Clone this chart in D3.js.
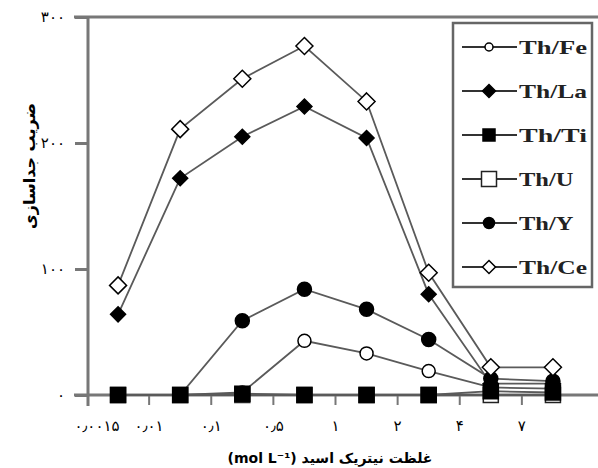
<!DOCTYPE html>
<html>
<head>
<meta charset="utf-8">
<script src="https://cdn.jsdelivr.net/npm/d3@7"></script>
<style>
  body { margin: 0; background: #fff; }
  svg { display: block; }
</style>
</head>
<body>
<div id="graphicContainer"></div>
<script>

var categories = ["0.0015", "0.01", "0.1", "0.5", "1", "2", "4", "7"]

var xTickLabels = ["٠٫٠٠١۵", "٠٫٠١", "٠٫١", "٠٫۵", "١", "٢", "۴", "٧"]

var yTicks = [0, 100, 200, 300]

var yTickLabels = ["٠", "١٠٠", "٢٠٠", "٣٠٠"]

var thU  = [0, 0, 0, 0, 0, 0, 0, 0]
var thTi = [0, 0, 1, 0, 0, 0, 3, 2]
var thFe = [0, 0, 2, 43, 33, 19, 6, 5]
var thY  = [0, 0, 59, 84, 68, 44, 13, 11]
var thLa = [64, 172, 205, 229, 204, 80, 9, 9]
var thCe = [87, 211, 251, 277, 233, 97, 22, 22]

var series = [
  { key: "Th/Fe", values: thFe, shape: "circle", fill: "#fff" },
  { key: "Th/La", values: thLa, shape: "diamond", fill: "#000" },
  { key: "Th/Ti", values: thTi, shape: "square", fill: "#000" },
  { key: "Th/U",  values: thU,  shape: "square", fill: "#fff" },
  { key: "Th/Y",  values: thY,  shape: "circle", fill: "#000" },
  { key: "Th/Ce", values: thCe, shape: "diamond", fill: "#fff" }
]

// order the lines are painted in
var drawOrder = ["Th/U", "Th/Fe", "Th/Y", "Th/La", "Th/Ce", "Th/Ti"]

var width = 598
var height = 468
var margin = { top: 17, right: 14, bottom: 73, left: 87 }

var svg = d3.select("#graphicContainer").append("svg")
  .attr("width", width)
  .attr("height", height)

var x = d3.scaleBand()
  .domain(categories)
  .range([margin.left, width - margin.right])
  .padding(0)

var y = d3.scaleLinear()
  .domain([0, 300])
  .range([height - margin.bottom, margin.top])

var axisColour = "#777"

// y axis
var yAxis = svg.append("g")
  .attr("class", "axisgroup")
  .attr("transform", `translate(${margin.left + 1},0)`)
  .call(d3.axisLeft(y)
    .tickValues(yTicks)
    .tickSize(13)
    .tickSizeOuter(0)
    .tickPadding(10)
    .tickFormat((d, i) => yTickLabels[i]))

yAxis.select(".domain").remove()
yAxis.selectAll("line").attr("stroke", axisColour).attr("stroke-width", 3)
yAxis.selectAll("text")
  .attr("font-family", "DejaVu Sans")
  .attr("font-size", 15)
  .attr("fill", "#000")

// axis frame lines
svg.append("line")
  .attr("x1", margin.left + 1).attr("x2", margin.left + 1)
  .attr("y1", y(300)).attr("y2", y(0) + 11)
  .attr("stroke", axisColour).attr("stroke-width", 3)

svg.append("line")
  .attr("x1", margin.left - 13).attr("x2", width)
  .attr("y1", y(300)).attr("y2", y(300))
  .attr("stroke", axisColour).attr("stroke-width", 3)

svg.append("line")
  .attr("x1", margin.left - 13).attr("x2", width)
  .attr("y1", y(0)).attr("y2", y(0))
  .attr("stroke", axisColour).attr("stroke-width", 3)

// x ticks at band edges
var xTicks = svg.append("g")
xTicks.selectAll("line")
  .data(categories.slice(1))
  .enter()
  .append("line")
  .attr("x1", d => x(d)).attr("x2", d => x(d))
  .attr("y1", y(0)).attr("y2", y(0) + 10)
  .attr("stroke", axisColour).attr("stroke-width", 2)

xTicks.selectAll("text")
  .data(categories)
  .enter()
  .append("text")
  .attr("x", (d, i) => i == 0 ? x(d) + 10 : x(d))
  .attr("y", y(0) + 36)
  .attr("text-anchor", "middle")
  .attr("font-family", "DejaVu Sans")
  .attr("font-size", 15)
  .text((d, i) => xTickLabels[i])

// axis titles
svg.append("text")
  .attr("transform", `translate(35,${(y(0) + y(300)) / 2 - 40}) rotate(-90)`)
  .attr("text-anchor", "middle")
  .attr("font-family", "DejaVu Sans")
  .attr("font-weight", "bold")
  .attr("font-size", 16)
  .text("ضریب جداسازی")

svg.append("text")
  .attr("x", 330)
  .attr("y", 463)
  .attr("text-anchor", "middle")
  .attr("direction", "rtl")
  .attr("font-family", "DejaVu Sans")
  .attr("font-weight", "bold")
  .attr("font-size", 14)
  .text("غلظت نیتریک اسید (mol L⁻¹)")

// markers
function marker(sel, shape, fill, big) {
  if (shape == "circle") {
    var r = big ? (fill == "#000" ? 7 : 6.5) : (fill == "#000" ? 5.5 : 4)
    sel.append("circle")
      .attr("r", r)
      .attr("fill", fill)
      .attr("stroke", "#000")
      .attr("stroke-width", 1.5)
  } else if (shape == "square") {
    var side = (big ? 15 : (fill == "#000" ? 12 : 15))
    sel.append("rect")
      .attr("x", -side / 2).attr("y", -side / 2)
      .attr("width", side).attr("height", side)
      .attr("fill", fill)
      .attr("stroke", fill == "#000" ? "#000" : "#222")
      .attr("stroke-width", 1.5)
  } else {
    var half = big ? (fill == "#000" ? 7.5 : 8.5) : 6.5
    sel.append("path")
      .attr("d", `M0,${-half}L${half},0L0,${half}L${-half},0Z`)
      .attr("fill", fill)
      .attr("stroke", "#000")
      .attr("stroke-width", 1.5)
  }
}

var line = d3.line()
  .x((d, i) => x(categories[i]) + x.bandwidth() / 2)
  .y(d => y(d))

var plot = svg.append("g")

drawOrder.forEach(function (key) {
  var s = series.find(d => d.key == key)
  plot.append("path")
    .datum(s.values)
    .attr("d", line)
    .attr("fill", "none")
    .attr("stroke", "#5a5a5a")
    .attr("stroke-width", 1.8)
})

drawOrder.forEach(function (key) {
  var s = series.find(d => d.key == key)
  s.values.forEach(function (v, i) {
    var g = plot.append("g")
      .attr("transform", `translate(${x(categories[i]) + x.bandwidth() / 2},${y(v)})`)
    marker(g, s.shape, s.fill, true)
  })
})

// legend
var legend = svg.append("g")

legend.append("rect")
  .attr("x", 453).attr("y", 23)
  .attr("width", 139).attr("height", 264)
  .attr("fill", "#fff")
  .attr("stroke", "#666")
  .attr("stroke-width", 2.5)

series.forEach(function (s, i) {
  var ly = 47 + i * 44
  var item = legend.append("g").attr("transform", `translate(0,${ly})`)
  item.append("line")
    .attr("x1", 462).attr("x2", 517)
    .attr("stroke", "#333").attr("stroke-width", 1.8)
  var m = item.append("g").attr("transform", "translate(489,0)")
  marker(m, s.shape, s.fill, false)
  item.append("text")
    .attr("x", 519)
    .attr("y", 7)
    .attr("font-family", "Liberation Serif")
    .attr("font-weight", "bold")
    .attr("font-size", 19)
    .attr("fill", "#222")
    .attr("textLength", s.key.length * 13.6)
    .attr("lengthAdjust", "spacingAndGlyphs")
    .text(s.key)
})

</script>
</body>
</html>
